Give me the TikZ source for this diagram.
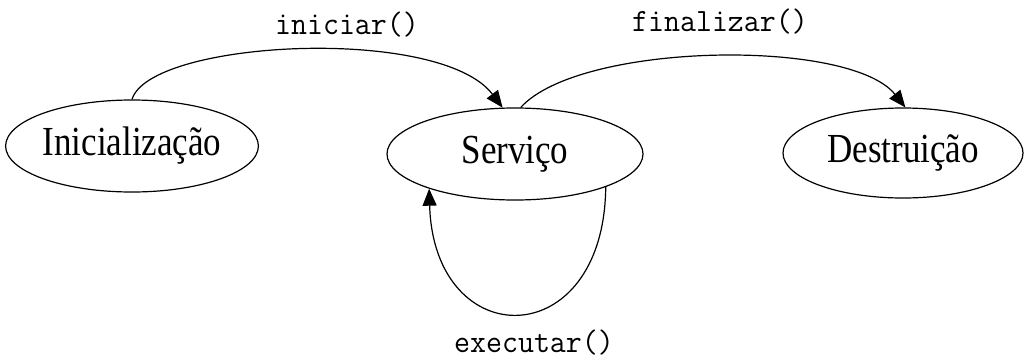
\documentclass[tikz,border=0pt]{standalone}
\usepackage{fontspec}
\setmainfont{Liberation Serif}
\usetikzlibrary{shapes.geometric,arrows.meta}
\tikzset{
  state/.style={draw, ellipse, line width=1.2pt, inner sep=0pt, font=\fontsize{35}{40}\selectfont},
  conn/.style={line width=1.2pt, -{Triangle[length=17pt,width=14pt]}},
  lbl/.style={inner sep=0pt, font=\ttfamily\fontsize{31}{36}\selectfont},
}
\newcommand{\tallnode}[1]{\scalebox{1}[1.18]{#1}}
\newcommand{\tallmono}[1]{\scalebox{1}[1.05]{#1}}
\begin{document}
\begin{tikzpicture}[x=1pt,y=1pt]
\useasboundingbox (0,0) rectangle (1032,360);
\node[state, minimum width=250pt, minimum height=92pt] (ini) at (132,214) {\tallnode{Inicialização}};
\node[state, minimum width=256pt, minimum height=92pt] (serv) at (515,206) {\tallnode{Serviço}};
\node[state, minimum width=240pt, minimum height=90pt] (dest) at (903,207) {\tallnode{Destruição}};
\node[lbl] (l1) at (347,335) {\tallmono{iniciar()}};
\node[lbl] (l2) at (720,338) {\tallmono{finalizar()}};
\node[lbl] (l3) at (534,17) {\tallmono{executar()}};
\draw[conn] (ini.north) .. controls (150,320) and (440,335) .. (serv.105);
\draw[conn] (serv.83) .. controls (580,318) and (850,322) .. (dest.87);
\draw[conn] (serv.340) .. controls (604,5) and (434,5) .. (serv.202);
\end{tikzpicture}
\end{document}
